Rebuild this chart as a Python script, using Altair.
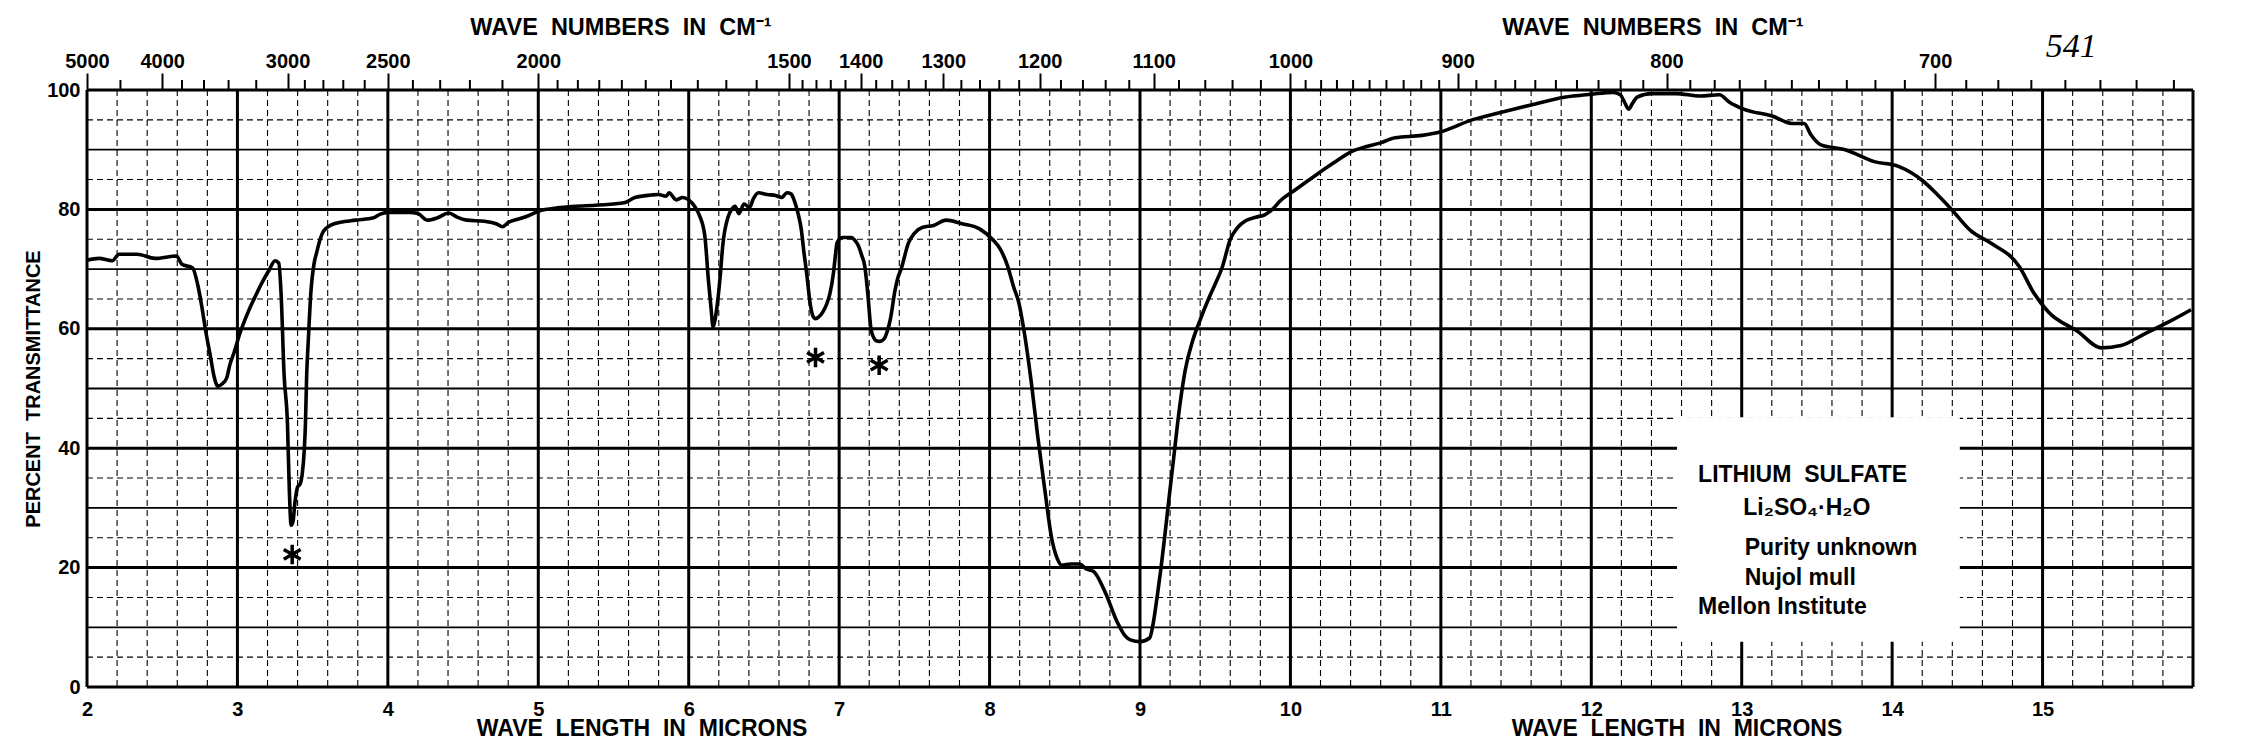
import altair as alt
import pandas as pd

# ---------------- data ----------------
lam = [2.0, 2.08, 2.167, 2.214, 2.333, 2.452, 2.595, 2.631, 2.702, 2.735, 2.762, 2.79, 2.821, 2.845,
       2.869, 2.9, 2.929, 2.95, 2.976, 3.02, 3.071, 3.12, 3.167, 3.21, 3.25, 3.275, 3.29, 3.31, 3.333,
       3.345, 3.357, 3.37, 3.381, 3.4, 3.417, 3.43, 3.445, 3.452, 3.46, 3.471, 3.488, 3.51, 3.524,
       3.55, 3.571, 3.643, 3.786, 3.905, 3.95, 4.0, 4.143, 4.2, 4.262, 4.33, 4.405, 4.46, 4.524,
       4.643, 4.72, 4.762, 4.8, 4.857, 4.93, 5.0, 5.143, 5.381, 5.571, 5.643, 5.75, 5.798, 5.85,
       5.869, 5.917, 5.96, 6.0, 6.04, 6.071, 6.107, 6.131, 6.15, 6.162, 6.175, 6.19, 6.21, 6.226,
       6.261, 6.285, 6.309, 6.333, 6.368, 6.404, 6.43, 6.463, 6.52, 6.582, 6.618, 6.653, 6.68, 6.7,
       6.725, 6.748, 6.765, 6.784, 6.808, 6.825, 6.843, 6.865, 6.891, 6.915, 6.938, 6.962, 6.976,
       6.986, 7.021, 7.081, 7.105, 7.128, 7.15, 7.171, 7.19, 7.211, 7.23, 7.247, 7.27, 7.295, 7.32,
       7.342, 7.371, 7.39, 7.413, 7.461, 7.5, 7.556, 7.627, 7.71, 7.817, 7.936, 8.019, 8.07, 8.12,
       8.16, 8.195, 8.23, 8.28, 8.32, 8.37, 8.41, 8.45, 8.48, 8.54, 8.6, 8.64, 8.69, 8.77, 8.85,
       8.9, 8.936, 9.0, 9.064, 9.09, 9.115, 9.14, 9.168, 9.19, 9.22, 9.266, 9.3, 9.35, 9.4, 9.459,
       9.5, 9.548, 9.599, 9.65, 9.702, 9.77, 9.829, 9.88, 9.931, 10.033, 10.161, 10.288, 10.416,
       10.5, 10.594, 10.696, 10.875, 11.0, 11.207, 11.39, 11.6, 11.82, 12.0, 12.145, 12.193, 12.22,
       12.248, 12.275, 12.305, 12.402, 12.563, 12.723, 12.852, 12.916, 13.013, 13.206, 13.334,
       13.415, 13.46, 13.527, 13.688, 13.881, 14.042, 14.203, 14.3, 14.395, 14.524, 14.653, 14.846,
       14.942, 15.039, 15.232, 15.392, 15.521, 15.682, 15.842, 15.987]
trans = [71.5, 71.8, 71.4, 72.5, 72.5, 71.8, 72.2, 70.8, 70.2, 67.5, 63.9, 59.5, 55.3, 52.0,
         50.4, 50.8, 51.8, 54.0, 55.9, 59.5, 62.8, 65.5, 67.9, 69.8, 71.4, 71.0, 66.0, 52.4, 43.8,
         33.0, 27.1, 27.8, 30.6, 33.5, 34.0, 35.5, 40.0, 44.0, 52.0, 58.0, 66.0, 71.0, 72.5,
         75.0, 76.3, 77.6, 78.2, 78.6, 79.2, 79.5, 79.5, 79.3, 78.2, 78.6, 79.4, 78.7, 78.2,
         78.0, 77.6, 77.1, 77.8, 78.3, 78.9, 79.7, 80.3, 80.7, 81.1, 82.0, 82.4, 82.5, 82.2,
         82.8, 81.6, 82.0, 81.6, 80.5, 79.0, 75.6, 68.1, 63.0, 60.3, 61.5, 64.1, 69.0, 73.9,
         78.7, 80.0, 80.5, 79.3, 80.9, 80.3, 81.8, 82.8, 82.5, 82.3, 82.0, 82.8, 82.6, 81.6,
         79.5, 76.7, 73.0, 69.3, 64.1, 62.2, 61.7, 62.0, 62.8, 64.0, 65.8, 69.3, 72.5,
         74.4, 75.3, 75.3, 74.8, 73.9, 72.3, 70.4, 66.0, 60.1, 58.5, 58.0, 57.9, 58.2, 59.6,
         61.8, 66.4, 68.5, 70.1, 74.4, 76.0, 77.0, 77.3, 78.2, 77.6, 76.7, 75.0, 73.4, 70.5,
         67.0, 64.3, 59.5, 50.5, 42.0, 32.5, 25.3, 21.5, 20.4, 20.6, 20.6, 19.8, 19.4, 15.8, 10.8,
         8.6, 7.9, 7.6, 8.2, 11.0, 15.3, 20.0, 26.0, 31.0, 37.5, 47.4, 53.0, 58.0, 61.5, 65.2,
         67.5, 70.4, 74.9, 77.0, 78.1, 78.7, 79.1, 80.0, 81.4, 83.3, 85.6, 87.8, 89.8,
         90.5, 91.1, 92.0, 92.4, 93.0, 95.0, 96.2, 97.5, 98.8, 99.3, 99.6, 99.2, 98.0,
         96.8, 97.8, 98.8, 99.4, 99.4, 99.0, 99.2, 98.0, 96.8, 95.6, 94.4,
         94.4, 92.5, 90.8, 90.0, 88.0, 87.2, 84.8, 82.5, 80.0, 76.4, 74.4, 70.4,
         66.0, 62.8, 59.6, 56.8, 57.2, 59.2, 61.2, 63.2]

star_lam = [3.364, 6.843, 7.266]
star_t = [22.2, 55.2, 53.9]

wl_labels = [2, 3, 4, 5, 6, 7, 8, 9, 10, 11, 12, 13, 14, 15]
y_labels = [0, 20, 40, 60, 80, 100]
wn_labels = [5000, 4000, 3000, 2500, 2000, 1500, 1400, 1300, 1200, 1100, 1000, 900, 800, 700]

NB = "\u00a0\u00a0"
box_text = ["LITHIUM" + NB + "SULFATE", "Li₂SO₄·H₂O", "Purity unknown", "Nujol mull", "Mellon Institute"]
box_lam = [12.71, 13.01, 13.02, 13.02, 12.71]
box_t = [35.5, 30.0, 23.3, 18.3, 13.4]

top_title = "WAVE" + NB + "NUMBERS" + NB + "IN" + NB + "CM⁻¹"
bottom_title = "WAVE" + NB + "LENGTH" + NB + "IN" + NB + "MICRONS"
y_title = "PERCENT" + NB + "TRANSMITTANCE"
note = "541"

# ---------------- chart furniture ----------------
W, H = 2106, 597
BOLD = "Liberation Sans"

xs = alt.Scale(domain=[2, 16], nice=False, zero=False)
ys = alt.Scale(domain=[0, 100], nice=False, zero=False)

curve_df = pd.DataFrame({"lam": lam, "t": trans})
star_df = pd.DataFrame({"lam": star_lam, "t": star_t})

v_minor = [round(2 + 0.2 * i, 1) for i in range(71) if i % 5 != 0]
v_major = list(range(2, 17))
h_minor = [v for v in range(0, 101, 5) if v % 10 != 0]
h_mid = [v for v in range(0, 101, 10) if v % 20 != 0]
h_major = list(range(0, 101, 20))

minor_wn = ([4500] + list(range(3800, 3000, -200)) + [v for v in range(2900, 2000, -100) if v != 2500]
            + list(range(1950, 1500, -50)) + [v for v in range(1480, 1000, -20) if v % 100 != 0]
            + [v for v in range(990, 620, -10) if v % 100 != 0])
major_lam_vals = [10000 / v for v in wn_labels]

vminor = alt.Chart(pd.DataFrame({"x": v_minor})).mark_rule(
    color="black", strokeWidth=1.1, strokeDash=[6, 4]).encode(x=alt.X("x:Q", scale=xs, axis=None))
vmajor = alt.Chart(pd.DataFrame({"x": v_major})).mark_rule(
    color="black", strokeWidth=3).encode(x=alt.X("x:Q", scale=xs, axis=None))
hminor = alt.Chart(pd.DataFrame({"y": h_minor})).mark_rule(
    color="black", strokeWidth=1.1, strokeDash=[6, 4]).encode(y=alt.Y("y:Q", scale=ys, axis=None))
hmid = alt.Chart(pd.DataFrame({"y": h_mid})).mark_rule(
    color="black", strokeWidth=1.8).encode(y=alt.Y("y:Q", scale=ys, axis=None))
hmajor = alt.Chart(pd.DataFrame({"y": h_major})).mark_rule(
    color="black", strokeWidth=3).encode(
    y=alt.Y("y:Q", scale=ys, axis=alt.Axis(
        values=y_labels, ticks=False, domain=False, grid=False,
        labelFont=BOLD, labelFontWeight="bold", labelFontSize=20, labelColor="black",
        labelPadding=7, labelFlush=False,
        title=y_title, titleFont=BOLD, titleFontWeight="bold", titleFontSize=20,
        titleColor="black", titleAngle=-90, titleX=-54, titleY=H / 2,
        titleAlign="center", titleBaseline="middle")))

box = alt.Chart(pd.DataFrame({"x": [12.57], "x2": [14.45], "y": [7.6], "y2": [45.2]})).mark_rect(
    color="white").encode(
    x=alt.X("x:Q", scale=xs, axis=None), x2="x2:Q",
    y=alt.Y("y:Q", scale=ys, axis=None), y2="y2:Q")

curve = alt.Chart(curve_df).mark_line(color="black", strokeWidth=3.6, interpolate="monotone").encode(
    x=alt.X("lam:Q", scale=xs, axis=alt.Axis(
        orient="bottom", values=wl_labels, title=None, ticks=False, domain=False, grid=False,
        labelFont=BOLD, labelFontWeight="bold", labelFontSize=20, labelColor="black",
        labelPadding=12, labelFlush=False)),
    y=alt.Y("t:Q", scale=ys, axis=None),
    order="lam:Q")

stars = alt.Chart(star_df).mark_point(
    shape="M0,-1L0,1M-0.866,-0.5L0.866,0.5M-0.866,0.5L0.866,-0.5",
    filled=False, stroke="black", strokeWidth=3.5, size=380, opacity=1).encode(
    x=alt.X("lam:Q", scale=xs, axis=None), y=alt.Y("t:Q", scale=ys, axis=None))

top_ticks = alt.Chart(pd.DataFrame({"wn": minor_wn})).transform_calculate(
    lam="10000 / datum.wn").mark_rule(color="black", strokeWidth=2).encode(
    x=alt.X("lam:Q", scale=xs, axis=alt.Axis(
        orient="top", values=major_lam_vals, labelExpr="format(round(10000 / datum.value), 'd')",
        title=None, tickSize=17, tickWidth=2, tickColor="black", domain=False, grid=False,
        labelFont=BOLD, labelFontWeight="bold", labelFontSize=20, labelColor="black",
        labelPadding=2, labelFlush=False)),
    y=alt.value(-10), y2=alt.value(0))

box_df = pd.DataFrame({"lam": box_lam, "t": box_t, "txt": box_text})
box_txt = alt.Chart(box_df).mark_text(
    align="left", baseline="middle", font=BOLD, fontSize=23, fontWeight="bold", color="black").encode(
    x=alt.X("lam:Q", scale=xs, axis=None), y=alt.Y("t:Q", scale=ys, axis=None), text="txt:N")

top_titles = alt.Chart(pd.DataFrame({"lam": [5.55, 12.41], "txt": [top_title, top_title]})).mark_text(
    align="center", baseline="middle", font=BOLD, fontSize=23.5, fontWeight="bold", color="black").encode(
    x=alt.X("lam:Q", scale=xs, axis=None), y=alt.value(-62), text="txt:N")

bottom_titles = alt.Chart(pd.DataFrame({"lam": [5.69, 12.57], "txt": [bottom_title, bottom_title]})).mark_text(
    align="center", baseline="middle", font=BOLD, fontSize=23, fontWeight="bold", color="black").encode(
    x=alt.X("lam:Q", scale=xs, axis=None), y=alt.value(H + 42), text="txt:N")

note_txt = alt.Chart(pd.DataFrame({"lam": [15.19], "txt": [note]})).mark_text(
    align="center", baseline="middle", font="Liberation Serif", fontSize=34, fontStyle="italic",
    color="black").encode(
    x=alt.X("lam:Q", scale=xs, axis=None), y=alt.value(-43), text="txt:N")

chart = alt.layer(
    vminor, hminor, hmid, vmajor, hmajor, box, curve, stars, top_ticks,
    box_txt, top_titles, bottom_titles, note_txt
).resolve_axis(x="independent", y="independent").properties(
    width=W, height=H,
    autosize=alt.AutoSizeParams(type="none"),
    padding={"left": 79, "top": 82, "right": 50, "bottom": 58},
    background="white",
).configure_view(stroke=None)

chart.save("out.html", embed_options={"renderer": "svg", "actions": False})
